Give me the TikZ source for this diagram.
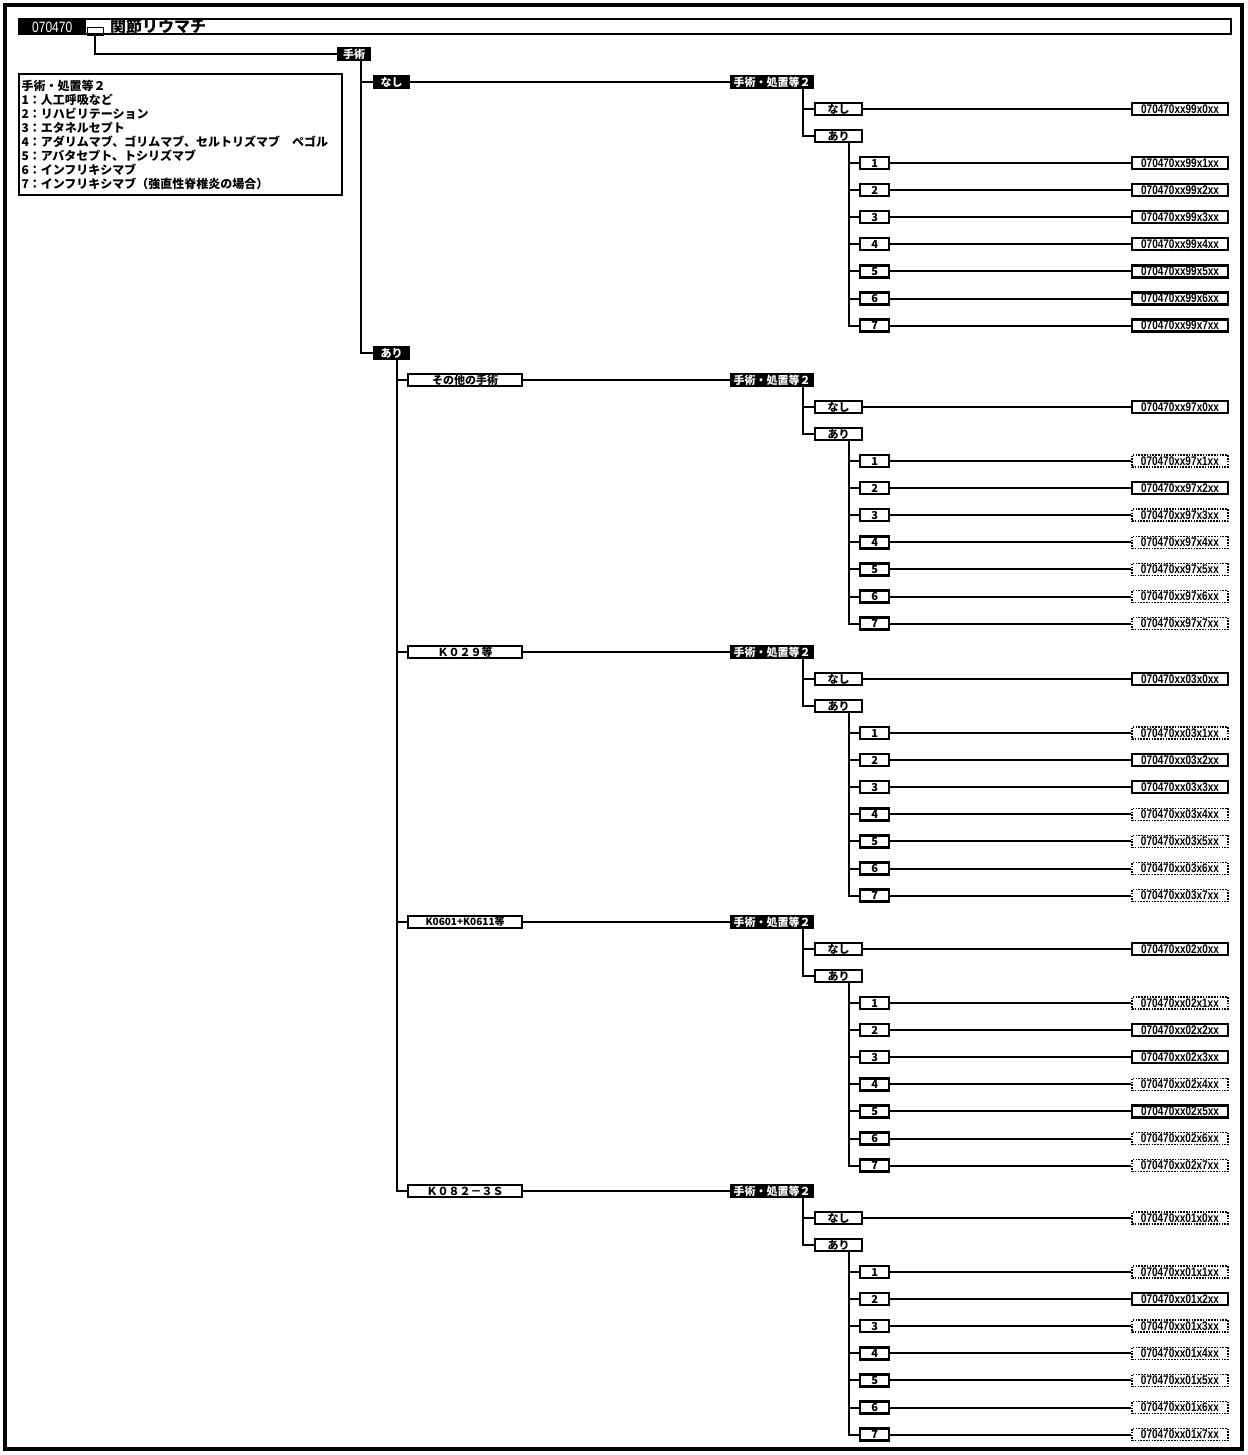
\documentclass[tikz,border=0pt]{standalone}
\usepackage{fontspec}
\setmainfont{Noto Sans CJK JP}
\newfontfamily\jp{Noto Sans CJK JP}
\newfontfamily\codefont{Liberation Sans}[FakeStretch=0.8]
\begin{document}
\begin{tikzpicture}[x=1pt,y=-1pt,
  conn/.style={line width=2pt},
  blk/.style={draw=black,fill=black,text=white,line width=1.2pt,minimum height=13pt,inner sep=0pt,anchor=west,font=\jp\bfseries\fontsize{11}{11}\selectfont},
  wb/.style={draw=black,fill=white,line width=2.2pt,minimum height=12pt,inner sep=0pt,anchor=west,font=\jp\bfseries\fontsize{11}{11}\selectfont},
  term/.style={wb,minimum width=96pt,font=\codefont\bfseries\fontsize{12.5}{12.5}\selectfont},
  termd/.style={term,dash pattern=on 1.6pt off 1.2pt,line width=1.8pt}]
\useasboundingbox (0,0) rectangle (1247,1455);
\draw[line width=4pt] (5,5) rectangle (1242,1449);
% header
\node[draw,line width=2pt,minimum width=1212pt,minimum height=15pt,anchor=west,inner sep=0pt] (hbar) at (18,27) {};
\node[fill=black,text=white,minimum width=68pt,minimum height=17pt,anchor=west,inner sep=0pt,font=\codefont\fontsize{15}{15}\selectfont] (hnum) at (18,27) {070470};
\node[draw,line width=1pt,minimum width=16pt,minimum height=8pt,anchor=north west,inner sep=0pt] (hgap) at (87,27) {};
\node[anchor=west,inner sep=0pt,font=\jp\bfseries\fontsize{16}{16}\selectfont] (htitle) at (110,26) {関節リウマチ};
\coordinate (h0) at (95,35);
% legend
\node[draw,line width=2pt,anchor=north west,minimum width=323pt,minimum height=121pt,text width=318pt,inner sep=2pt,align=left,font=\jp\bfseries\fontsize{12}{14}\selectfont] (leg) at (18,73) {手術・処置等２\\1：人工呼吸など\\2：リハビリテーション\\3：エタネルセプト\\4：アダリムマブ、ゴリムマブ、セルトリズマブ　ペゴル\\5：アバタセプト、トシリズマブ\\6：インフリキシマブ\\7：インフリキシマブ（強直性脊椎炎の場合）};
% level 1
\node[blk,minimum width=33pt] (shu) at (337,54) {手術};
\node[blk,minimum width=36pt] (n1) at (373,82) {なし};
\node[blk,minimum width=36pt] (a1) at (373,353) {あり};
\draw[conn] (h0) |- (shu.west);
\draw[conn] ([xshift=6.5pt]shu.south) |- (n1.west);
\draw[conn] ([xshift=6.5pt]shu.south) |- (a1.west);
% sub boxes
\node[wb,minimum width=114pt] (s1) at (407,380) {その他の手術};
\node[wb,minimum width=114pt] (s2) at (407,652) {Ｋ０２９等};
\node[wb,minimum width=114pt,font=\jp\bfseries\fontsize{10}{10}\selectfont] (s3) at (407,922) {K0601+K0611等};
\node[wb,minimum width=114pt] (s4) at (407,1191) {Ｋ０８２－３Ｓ};
\foreach \s in {s1,s2,s3,s4} \draw[conn] ([xshift=5pt]a1.south) |- (\s.west);
\newcommand{\drawsec}[5]{%
  \node[blk,minimum width=83pt] (#1p) at (730,#2) {手術・処置等２};
  \node[wb,minimum width=47pt] (#1n) at (814,#2+27.1) {なし};
  \node[wb,minimum width=47pt] (#1a) at (814,#2+54.2) {あり};
  \foreach \i in {1,...,7} \node[wb,minimum width=29pt] (#1i\i) at (859,#2+54.2+27.05*\i) {\i};
  \draw[conn] ([xshift=73pt]#1p.south west) |- (#1n.west);
  \draw[conn] ([xshift=73pt]#1p.south west) |- (#1a.west);
  \foreach \i in {1,...,7} \draw[conn] ([xshift=35pt]#1a.south west) |- (#1i\i.west);
  \node[#4] (#1t0) at (1131,#2+27.1) {070470xx#3x0xx};
  \draw[conn] (#1n.east) -- (#1t0.west);
  \foreach \k/\st in {#5} {
    \node[\st] (#1t\k) at (1131,#2+54.2+27.05*\k) {070470xx#3x\k xx};
    \draw[conn] (#1i\k.east) -- (#1t\k.west);
  }
}
\drawsec{A}{82}{99}{term}{1/term,2/term,3/term,4/term,5/term,6/term,7/term}
\drawsec{B}{380}{97}{term}{1/termd,2/term,3/termd,4/termd,5/termd,6/termd,7/termd}
\drawsec{C}{652}{03}{term}{1/termd,2/term,3/term,4/termd,5/termd,6/termd,7/termd}
\drawsec{D}{922}{02}{term}{1/termd,2/term,3/term,4/termd,5/term,6/termd,7/termd}
\drawsec{E}{1191}{01}{termd}{1/termd,2/term,3/termd,4/termd,5/termd,6/termd,7/termd}
\draw[conn] (n1.east) -- (Ap.west);
\draw[conn] (s1.east) -- (Bp.west);
\draw[conn] (s2.east) -- (Cp.west);
\draw[conn] (s3.east) -- (Dp.west);
\draw[conn] (s4.east) -- (Ep.west);
\end{tikzpicture}
\end{document}
